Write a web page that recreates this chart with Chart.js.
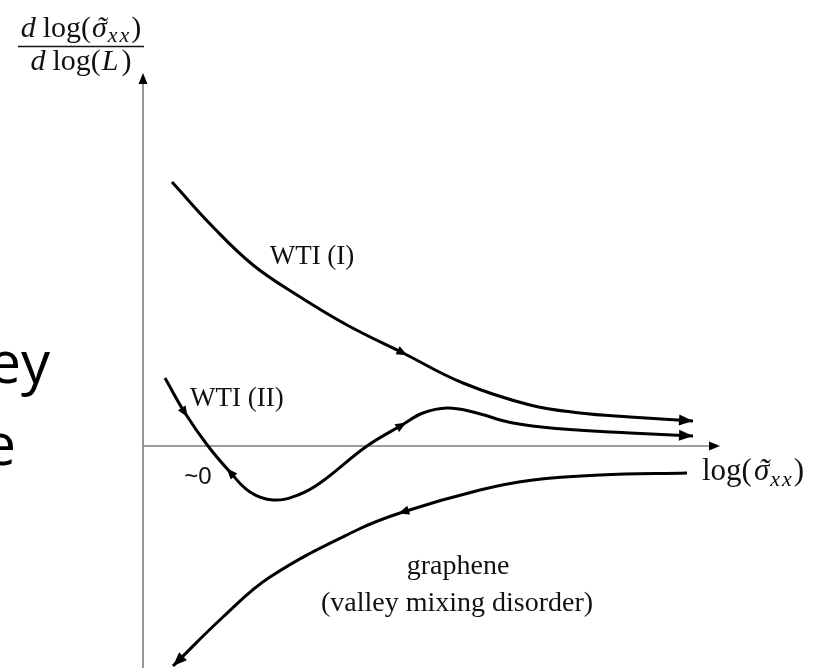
<!DOCTYPE html>
<html>
<head>
<meta charset="utf-8">
<script src="https://cdn.jsdelivr.net/npm/chart.js@4/dist/chart.umd.min.js"></script>
<style>
  html, body { margin: 0; padding: 0; background: #fff; }
  #wrap { width: 818px; height: 668px; position: relative; }
</style>
</head>
<body>
<div id="wrap"><canvas id="flow"></canvas></div>
<script>
// flow lines: x = log(sigma_xx), y = d log(sigma_xx) / d log(L)
const wtiOneX = [0.29, 0.70, 1.10, 1.54, 2.04, 2.60, 3.20, 3.87, 4.37, 4.87, 5.50];
const wtiOneY = [2.64, 2.19, 1.81, 1.51, 1.21, 0.93, 0.63, 0.41, 0.33, 0.29, 0.25];

const wtiTwoX = [0.22, 0.42, 0.65, 0.87, 1.07, 1.30, 1.55, 1.77, 2.24, 2.59, 2.80, 3.04, 3.30, 3.70, 4.20, 4.87, 5.50];
const wtiTwoY = [0.68, 0.33, 0.00, -0.26, -0.46, -0.54, -0.49, -0.37, 0.00, 0.21, 0.33, 0.38, 0.34, 0.23, 0.17, 0.13, 0.10];

const grapheneX = [0.30, 0.80, 1.27, 2.14, 2.60, 3.37, 3.90, 4.57, 5.44];
const grapheneY = [-2.20, -1.71, -1.31, -0.84, -0.66, -0.44, -0.34, -0.29, -0.27];

// arrows along each line: [point index, flow direction]
const wtiOneArrows = [[5, 1], [10, 1]];
const wtiTwoArrows = [[1, 1], [3, -1], [9, 1], [16, 1]];
const grapheneArrows = [[4, -1], [0, -1]];

const xRange = [-1.43, 6.75];
const yRange = [-2.22, 4.46];
const xAxisEnd = 5.77;
const yAxisEnd = 3.73;

const pts = (xs, ys) => xs.map((x, i) => ({ x: x, y: ys[i] }));

const SERIF = '"Liberation Serif", "Times New Roman", serif';
const INK = '#111';

function arrowHead(ctx, tx, ty, ux, uy, len, half) {
  ctx.beginPath();
  ctx.moveTo(tx, ty);
  ctx.lineTo(tx - ux * len - uy * half, ty - uy * len + ux * half);
  ctx.lineTo(tx - ux * len + uy * half, ty - uy * len - ux * half);
  ctx.closePath();
  ctx.fill();
}

// tangent of the drawn spline at a point, from its control points
function tangentAt(meta, i) {
  const p = meta.data[i];
  const a = (typeof p.cp1x === 'number' && i > 0) ? { x: p.cp1x, y: p.cp1y } : p;
  const b = (typeof p.cp2x === 'number' && i < meta.data.length - 1) ? { x: p.cp2x, y: p.cp2y } : p;
  let dx = b.x - a.x, dy = b.y - a.y;
  if (Math.hypot(dx, dy) < 0.01) {
    const q = meta.data[Math.max(0, i - 1)], r = meta.data[Math.min(meta.data.length - 1, i + 1)];
    dx = r.x - q.x; dy = r.y - q.y;
  }
  const l = Math.hypot(dx, dy);
  return { x: dx / l, y: dy / l };
}

// text made of several runs (italic letters, subscripts, tilde accents)
function runsWidth(ctx, parts) {
  let w = 0;
  parts.forEach(p => { ctx.font = p.font; w += ctx.measureText(p.t).width + (p.gap || 0); });
  return w;
}
function drawRuns(ctx, parts, x, y, align) {
  let cx = align === 'center' ? x - runsWidth(ctx, parts) / 2 : x;
  ctx.textAlign = 'left';
  parts.forEach(p => {
    ctx.font = p.font;
    const w = ctx.measureText(p.t).width;
    ctx.fillText(p.t, cx, y + (p.dy || 0));
    if (p.tilde) {
      ctx.textAlign = 'center';
      ctx.fillText('\u02DC', cx + w / 2 + 2, y);
      ctx.textAlign = 'left';
    }
    cx += w + (p.gap || 0);
  });
}

const sigmaParts = size => [
  { t: '\u03C3', font: 'italic ' + size + 'px ' + SERIF, tilde: true, gap: 1 },
  { t: 'x', font: 'italic ' + Math.round(size * 0.72) + 'px ' + SERIF, dy: size * 0.18, gap: 2 },
  { t: 'x', font: 'italic ' + Math.round(size * 0.72) + 'px ' + SERIF, dy: size * 0.18, gap: 2 },
];
const numerator = [
  { t: 'd', font: 'italic 30px ' + SERIF, gap: 7 },
  { t: 'log(', font: '30px ' + SERIF, gap: 1 },
  ...sigmaParts(30),
  { t: ')', font: '30px ' + SERIF },
];
const denominator = [
  { t: 'd', font: 'italic 30px ' + SERIF, gap: 7 },
  { t: 'log(', font: '30px ' + SERIF, gap: 1 },
  { t: 'L', font: 'italic 30px ' + SERIF, gap: 3 },
  { t: ')', font: '30px ' + SERIF },
];
const xTitle = [
  { t: 'log(', font: '31px ' + SERIF, gap: 2 },
  ...sigmaParts(31),
  { t: ')', font: '31px ' + SERIF },
];

const decorations = {
  id: 'decorations',
  afterDatasetsDraw(chart) {
    const ctx = chart.ctx;
    const sx = chart.scales.x, sy = chart.scales.y;
    const px = v => sx.getPixelForValue(v), py = v => sy.getPixelForValue(v);
    ctx.save();
    ctx.fillStyle = '#000';

    // axis arrowheads
    arrowHead(ctx, px(xAxisEnd), py(0), 1, 0, 11, 4.5);
    arrowHead(ctx, px(0), py(yAxisEnd), 0, -1, 11, 4.5);

    // flow direction arrows on the curves
    [[0, wtiOneArrows], [1, wtiTwoArrows], [2, grapheneArrows]].forEach(([di, list]) => {
      const meta = chart.getDatasetMeta(di);
      const last = meta.data.length - 1;
      list.forEach(([i, dir]) => {
        const t = tangentAt(meta, i);
        const ux = t.x * dir, uy = t.y * dir;
        const p = meta.data[i];
        const isEnd = (i === last && dir > 0) || (i === 0 && dir < 0);
        if (isEnd) arrowHead(ctx, p.x, p.y, ux, uy, 14, 5.5);
        else arrowHead(ctx, p.x + ux * 5, p.y + uy * 5, ux, uy, 11, 4.5);
      });
    });

    // labels
    ctx.fillStyle = INK;
    ctx.textBaseline = 'alphabetic';
    ctx.font = '27px ' + SERIF;
    ctx.textAlign = 'center';
    ctx.fillText('WTI (I)', px(1.69), py(1.82));
    ctx.textAlign = 'left';
    ctx.fillText('WTI (II)', px(0.47), py(0.40));
    ctx.font = '28px ' + SERIF;
    ctx.textAlign = 'center';
    ctx.fillText('graphene', px(3.15), py(-1.28));
    ctx.fillText('(valley mixing disorder)', px(3.14), py(-1.65));
    ctx.font = '24px "Liberation Sans", Arial, sans-serif';
    ctx.fillText('~0', px(0.55), py(-0.38));

    // axis titles
    drawRuns(ctx, xTitle, px(5.59), py(-0.34), 'left');
    drawRuns(ctx, numerator, px(-0.62), py(4.09), 'center');
    drawRuns(ctx, denominator, px(-0.62), py(3.76), 'center');
    ctx.strokeStyle = INK;
    ctx.lineWidth = 1.5;
    ctx.beginPath();
    ctx.moveTo(px(-1.25), py(3.995));
    ctx.lineTo(px(0.01), py(3.995));
    ctx.stroke();

    // slide text cut off at the left edge
    ctx.fillStyle = '#000';
    ctx.font = '58px "Open Sans", sans-serif';
    ctx.textAlign = 'right';
    ctx.fillText('ey', px(-0.93), py(0.63));
    ctx.fillText('e', px(-1.27), py(-0.19));
    ctx.restore();
  }
};

const curve = (data) => ({
  data: data,
  showLine: true,
  borderColor: '#000',
  borderWidth: 3,
  pointRadius: 0,
  tension: 0.4,
  order: 1,
});
const axisLine = (data) => ({
  data: data,
  showLine: true,
  borderColor: '#7d7d7d',
  borderWidth: 1.6,
  pointRadius: 0,
  tension: 0,
  order: 2,
});

new Chart(document.getElementById('flow'), {
  type: 'scatter',
  data: {
    datasets: [
      curve(pts(wtiOneX, wtiOneY)),
      curve(pts(wtiTwoX, wtiTwoY)),
      curve(pts(grapheneX, grapheneY)),
      axisLine([{ x: 0, y: yRange[0] }, { x: 0, y: yAxisEnd - 0.06 }]),
      axisLine([{ x: 0, y: 0 }, { x: xAxisEnd - 0.06, y: 0 }]),
    ]
  },
  options: {
    responsive: true,
    maintainAspectRatio: false,
    animation: false,
    events: [],
    layout: { padding: 0 },
    plugins: { legend: { display: false }, tooltip: { enabled: false } },
    scales: {
      x: { type: 'linear', min: xRange[0], max: xRange[1], display: false },
      y: { type: 'linear', min: yRange[0], max: yRange[1], display: false }
    }
  },
  plugins: [decorations]
});
</script>
</body>
</html>
